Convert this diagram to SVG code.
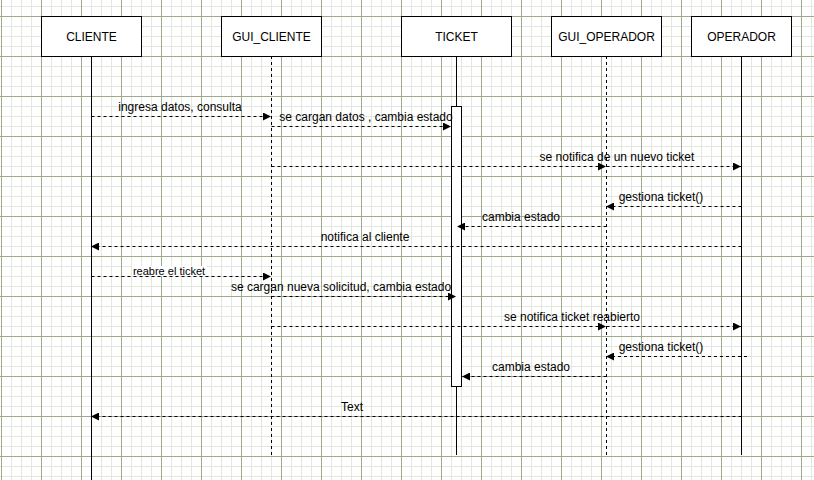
<svg xmlns="http://www.w3.org/2000/svg" width="814" height="480" viewBox="0 0 814 480">
<style>
text{font-family:"Liberation Sans",Arial,sans-serif;font-size:12px;fill:#000}
.box{fill:#fff;stroke:#000;stroke-width:1}
.lbl{text-anchor:middle}
.life{stroke:#000;stroke-width:1;fill:none}
.lifed{stroke:#000;stroke-width:1;fill:none;stroke-dasharray:3 3}
.msg{stroke:#000;stroke-width:1;fill:none;stroke-dasharray:3 3;marker-end:url(#ah)}
</style>
<defs>
<pattern id="grid" patternUnits="userSpaceOnUse" x="1" y="16" width="40" height="40">
<rect width="40" height="40" fill="#fff"/>
<rect x="10" y="0" width="1" height="40" fill="#e4e7dc"/>
<rect x="20" y="0" width="1" height="40" fill="#e4e7dc"/>
<rect x="30" y="0" width="1" height="40" fill="#e4e7dc"/>
<rect x="0" y="10" width="40" height="1" fill="#e4e7dc"/>
<rect x="0" y="20" width="40" height="1" fill="#e4e7dc"/>
<rect x="0" y="30" width="40" height="1" fill="#e4e7dc"/>
<rect x="0" y="0" width="1" height="40" fill="#9ea98d"/>
<rect x="0" y="0" width="40" height="1" fill="#9ea98d"/>
</pattern>
<marker id="ah" viewBox="0 0 10 10" refX="10" refY="5" markerWidth="9" markerHeight="8" markerUnits="userSpaceOnUse" orient="auto">
<path d="M0,0 L10,5 L0,10 Z" fill="#000"/>
</marker>
</defs>
<rect width="814" height="480" fill="url(#grid)"/>

<g id="lifelines">
<line class="life" x1="91.5" y1="56" x2="91.5" y2="480"/>
<line class="lifed" x1="271.5" y1="56" x2="271.5" y2="455"/>
<line class="life" x1="456.5" y1="56" x2="456.5" y2="455"/>
<line class="lifed" x1="606.5" y1="56" x2="606.5" y2="455"/>
<line class="life" x1="741.5" y1="56" x2="741.5" y2="455"/>
</g>

<g id="cliente"><rect class="box" x="41.5" y="16.5" width="100" height="40"/><text class="lbl" x="91.5" y="41">CLIENTE</text></g>
<g id="gui_cliente"><rect class="box" x="221.5" y="16.5" width="100" height="40"/><text class="lbl" x="271.5" y="41">GUI_CLIENTE</text></g>
<g id="ticket"><rect class="box" x="401.5" y="16.5" width="110" height="40"/><text class="lbl" x="456.5" y="41">TICKET</text></g>
<g id="gui_operador"><rect class="box" x="551.5" y="16.5" width="110" height="40"/><text class="lbl" x="606.5" y="41">GUI_OPERADOR</text></g>
<g id="operador"><rect class="box" x="691.5" y="16.5" width="100" height="40"/><text class="lbl" x="741.5" y="41">OPERADOR</text></g>
<g id="activation"><rect class="box" x="451.5" y="106.5" width="10" height="280"/></g>

<g id="connectors">
<line class="msg" x1="91.5" y1="116.5" x2="271" y2="116.5"/>
<line class="msg" x1="271.5" y1="126.5" x2="451" y2="126.5"/>
<line class="msg" x1="271.5" y1="166.5" x2="606" y2="166.5"/>
<line class="msg" x1="606.5" y1="166.5" x2="741" y2="166.5"/>
<line class="msg" x1="741.5" y1="206.5" x2="606" y2="206.5"/>
<line class="msg" x1="606.5" y1="226.5" x2="457" y2="226.5"/>
<line class="msg" x1="741.5" y1="246.5" x2="91" y2="246.5"/>
<line class="msg" x1="91.5" y1="276.5" x2="271" y2="276.5"/>
<line class="msg" x1="271.5" y1="296.5" x2="456" y2="296.5"/>
<line class="msg" x1="271.5" y1="326.5" x2="606" y2="326.5"/>
<line class="msg" x1="606.5" y1="326.5" x2="741" y2="326.5"/>
<line class="msg" x1="747" y1="356.5" x2="606" y2="356.5"/>
<line class="msg" x1="606.5" y1="376.5" x2="462" y2="376.5"/>
<line class="msg" x1="741.5" y1="416.5" x2="91" y2="416.5"/>
</g>

<g id="labels">
<text class="lbl" x="180" y="111">ingresa datos, consulta</text>
<text class="lbl" x="366" y="121">se cargan datos , cambia estado</text>
<text class="lbl" x="617" y="161">se notifica de un nuevo ticket</text>
<text class="lbl" x="661" y="201">gestiona ticket()</text>
<text class="lbl" x="521" y="221">cambia estado</text>
<text class="lbl" x="365" y="241">notifica al cliente</text>
<rect x="132" y="266" width="75" height="10" fill="#fff"/>
<text class="lbl" x="169" y="275" style="font-size:11px">reabre el ticket</text>
<text class="lbl" x="341" y="291">se cargan nueva solicitud, cambia estado</text>
<text class="lbl" x="572" y="321">se notifica ticket reabierto</text>
<text class="lbl" x="661" y="351">gestiona ticket()</text>
<text class="lbl" x="531" y="371">cambia estado</text>
<text class="lbl" x="352" y="411">Text</text>
</g>
</svg>
